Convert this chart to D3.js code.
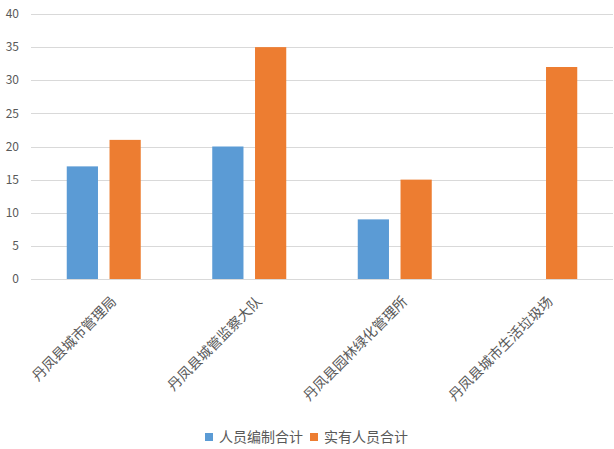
<!DOCTYPE html>
<html>
<head>
<meta charset="utf-8">
<script src="https://cdn.jsdelivr.net/npm/d3@7"></script>
<style>
  body { margin: 0; background: #fff; }
  text { font-family: "Noto Sans CJK SC", "Microsoft YaHei", sans-serif; fill: #595959; }
</style>
</head>
<body>
<div id="chart"></div>
<script>
// Chart data
const categories = ['丹凤县城市管理局', '丹凤县城管监察大队', '丹凤县园林绿化管理所', '丹凤县城市生活垃圾场'];
const seriesNames = ['人员编制合计', '实有人员合计'];
const staffQuota = [17, 20, 9, 0];
const staffActual = [21, 35, 15, 32];
const yTicks = [0, 5, 10, 15, 20, 25, 30, 35, 40];

const colors = ['#5B9BD5', '#ED7D31'];
const width = 614;
const height = 449;
const margin = {top: 14, right: 1, bottom: 170, left: 31};
const plotWidth = width - margin.left - margin.right;
const plotHeight = height - margin.top - margin.bottom;

const svg = d3.select('#chart')
  .append('svg')
  .attr('width', width)
  .attr('height', height);

const chart = svg.append('g')
  .attr('transform', 'translate(' + margin.left + ',' + margin.top + ')');

const x = d3.scaleBand()
  .domain(categories)
  .range([0, plotWidth]);

const x1 = d3.scaleBand()
  .domain(seriesNames)
  .range([0, 74])
  .paddingInner(0.27);

const y = d3.scaleLinear()
  .domain([0, 40])
  .range([plotHeight, 0]);

// Gridlines
chart.append('g')
  .selectAll('line')
  .data(yTicks)
  .join('line')
  .attr('x1', 0)
  .attr('x2', plotWidth)
  .attr('y1', d => Math.round(y(d)) + 0.5)
  .attr('y2', d => Math.round(y(d)) + 0.5)
  .attr('stroke', '#d9d9d9')
  .attr('stroke-width', 1);

// Y axis labels
chart.append('g')
  .selectAll('text')
  .data(yTicks)
  .join('text')
  .attr('x', -12)
  .attr('y', d => y(d))
  .attr('dy', '0.35em')
  .attr('text-anchor', 'end')
  .style('font-size', '12px')
  .text(d => d);

// Bars
const rows = categories.map((c, i) => ({cat: c, values: [staffQuota[i], staffActual[i]]}));
const groups = chart.append('g')
  .selectAll('g')
  .data(rows)
  .join('g')
  .attr('transform', d => 'translate(' + (x(d.cat) + x.bandwidth() / 2 - 37) + ',0)');

groups.selectAll('rect')
  .data(d => d.values.map((v, j) => ({name: seriesNames[j], value: v, idx: j})))
  .join('rect')
  .attr('x', d => x1(d.name))
  .attr('width', x1.bandwidth())
  .attr('y', d => y(d.value))
  .attr('height', d => y(0) - y(d.value))
  .attr('fill', d => colors[d.idx]);

// Category labels, rotated
chart.append('g')
  .selectAll('text')
  .data(categories)
  .join('text')
  .attr('transform', d => 'translate(' + (x(d) + x.bandwidth() / 2 + 10) + ',' + (plotHeight + 20) + ') rotate(-45)')
  .attr('text-anchor', 'end')
  .attr('dy', '0.35em')
  .style('font-size', '14px')
  .text(d => d);

// Legend
const legend = svg.append('g')
  .attr('transform', 'translate(205,437)');
let lx = 0;
seriesNames.forEach((name, i) => {
  legend.append('rect')
    .attr('x', lx)
    .attr('y', -4)
    .attr('width', 8)
    .attr('height', 8)
    .attr('fill', colors[i]);
  const t = legend.append('text')
    .attr('x', lx + 14)
    .attr('y', 0)
    .attr('dy', '0.35em')
    .style('font-size', '14px')
    .text(name);
  lx += 14 + t.node().getComputedTextLength() + 7;
});
</script>
</body>
</html>
